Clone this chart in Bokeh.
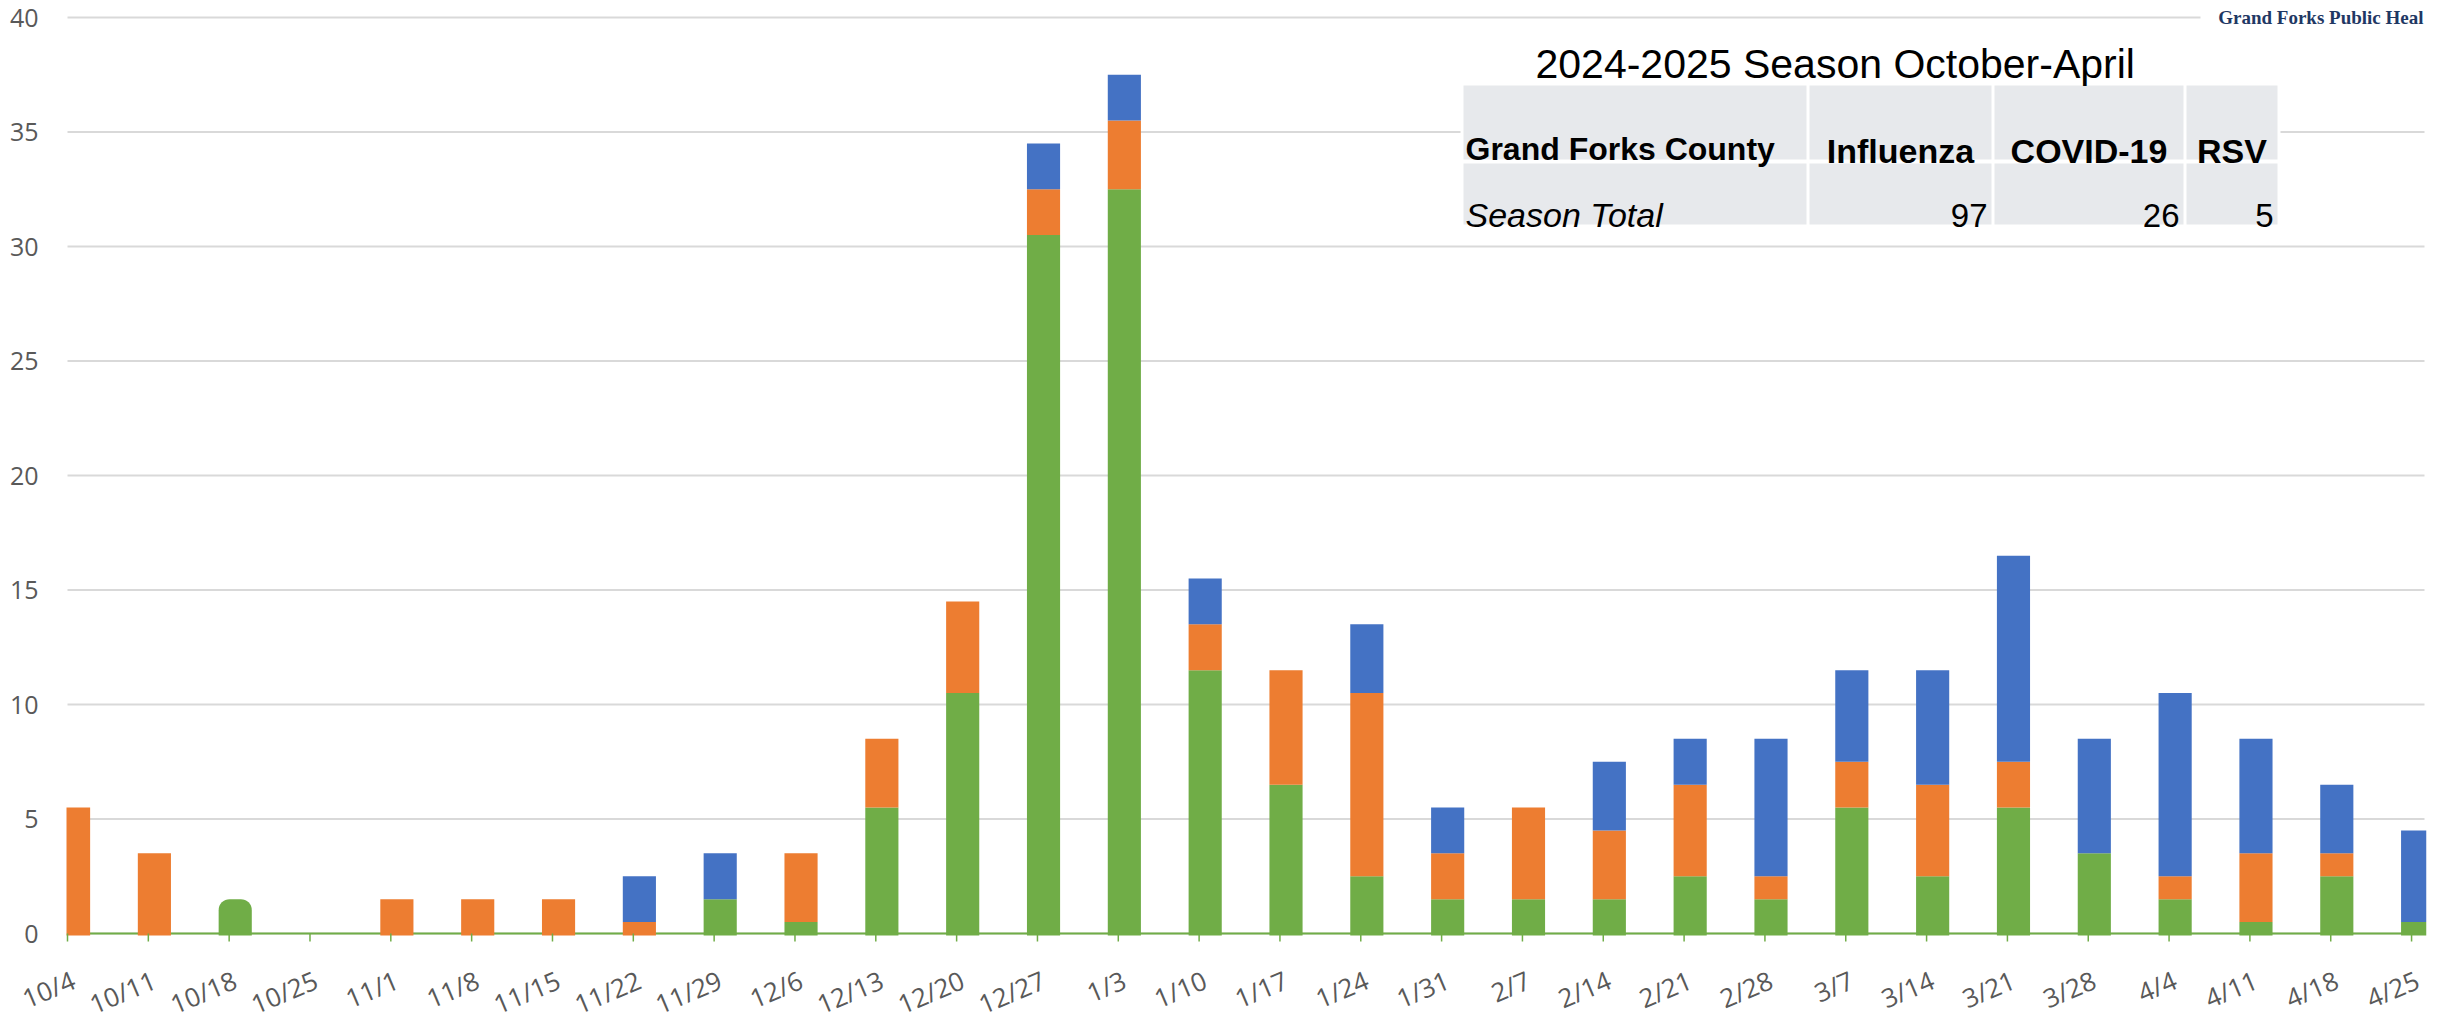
from bokeh.plotting import figure
from bokeh.models import ColumnDataSource, Range1d, CDSView, IndexFilter
from bokeh.embed import file_html
from bokeh.resources import INLINE
from bokeh.core.properties import value

# ---------------- data ----------------
weeks = ["10/4", "10/11", "10/18", "10/25", "11/1", "11/8", "11/15", "11/22", "11/29", "12/6",
         "12/13", "12/20", "12/27", "1/3", "1/10", "1/17", "1/24", "1/31", "2/7", "2/14",
         "2/21", "2/28", "3/7", "3/14", "3/21", "3/28", "4/4", "4/11", "4/18", "4/25"]
green = [0, 0, 1.5, 0, 0, 0, 0, 0, 1.5, 0.5, 5.5, 10.5, 30.5, 32.5, 11.5, 6.5, 2.5, 1.5, 1.5, 1.5,
         2.5, 1.5, 5.5, 2.5, 5.5, 3.5, 1.5, 0.5, 2.5, 0.5]
orange = [5.5, 3.5, 0, 0, 1.5, 1.5, 1.5, 0.5, 0, 3, 3, 4, 2, 3, 2, 5, 8, 2, 4, 3,
          4, 1, 2, 4, 2, 0, 1, 3, 1, 0]
blue = [0, 0, 0, 0, 0, 0, 0, 2, 2, 0, 0, 0, 2, 2, 2, 0, 3, 2, 0, 3,
        2, 6, 4, 5, 9, 5, 8, 5, 3, 4]
y_ticks = [0, 5, 10, 15, 20, 25, 30, 35, 40]

table_title = "2024-2025 Season October-April"
table_row_label = "Grand Forks County"
table_total_label = "Season Total"
table_cols = ["Influenza", "COVID-19", "RSV"]
table_totals = [97, 26, 5]
logo_text = "Grand Forks Public Heal"
rounded_weeks = ["10/18"]

# ---------------- styles / layout (page pixels) ----------------
GREEN, ORANGE, BLUE = "#70ad47", "#ed7d31", "#4472c4"
GRID = "#d9d9d9"
LABEL = "#595959"
W, H = 2430, 1023
BR = 4
PLOT_LEFT_PX = 67      # page x of first category
PLOT_RIGHT_PX = 2424   # page x where the plot area ends
ZERO_PX = 933          # page y of value 0
YPX = 916 / 40         # pixels per unit on y
XPX = (2424 - 67) / 29.16
BAR_W = 0.41
BAR_SHIFT = 0.075


def dx(px):
    return (px - PLOT_LEFT_PX) / XPX


def dy(py):
    return (ZERO_PX - py) / YPX


n = len(weeks)
xs = [i + BAR_SHIFT for i in range(n)]
base = dy(935)
o_top = [g + o for g, o in zip(green, orange)]
b_top = [t + b for t, b in zip(o_top, blue)]
src = ColumnDataSource(dict(
    x=xs,
    g0=[base] * n, g1=green,
    o0=[base if g == 0 else g for g in green], o1=o_top,
    b0=[base if t == 0 else t for t in o_top], b1=b_top,
))

p = figure(width=W, height=H, output_backend="svg", toolbar_location=None,
           x_range=Range1d(dx(0), dx(W - BR)), y_range=Range1d(dy(H), dy(0)),
           x_axis_location=None, y_axis_location=None,
           min_border_left=0, min_border_right=BR, min_border_top=0, min_border_bottom=0)
p.outline_line_color = None
p.background_fill_color = "white"
p.border_fill_color = "white"
p.grid.visible = False

x_end = dx(PLOT_RIGHT_PX)
# horizontal gridlines
p.segment(x0=[0] * len(y_ticks), y0=y_ticks, x1=[x_end] * len(y_ticks), y1=y_ticks,
          line_color=GRID, line_width=2)
# category axis line
p.segment(x0=[0], y0=[0], x1=[x_end], y1=[0], line_color=GREEN, line_width=2)

# stacked bars
round_idx = [i for i, w in enumerate(weeks) if w in rounded_weeks]
nz_g = [i for i in range(n) if green[i] > 0 and i not in round_idx]
nz_o = [i for i in range(n) if orange[i] > 0]
nz_b = [i for i in range(n) if blue[i] > 0]

p.vbar(x="x", bottom="g0", top="g1", width=BAR_W, source=src, view=CDSView(filter=IndexFilter(nz_g)),
       fill_color=GREEN, line_color=None)
try:
    p.vbar(x="x", bottom="g0", top="g1", width=BAR_W, source=src, view=CDSView(filter=IndexFilter(round_idx)),
           fill_color=GREEN, line_color=None, border_radius=(11, 11, 0, 0))
except Exception:
    p.vbar(x="x", bottom="g0", top="g1", width=BAR_W, source=src, view=CDSView(filter=IndexFilter(round_idx)),
           fill_color=GREEN, line_color=None)
p.vbar(x="x", bottom="o0", top="o1", width=BAR_W, source=src, view=CDSView(filter=IndexFilter(nz_o)),
       fill_color=ORANGE, line_color=None)
p.vbar(x="x", bottom="b0", top="b1", width=BAR_W, source=src, view=CDSView(filter=IndexFilter(nz_b)),
       fill_color=BLUE, line_color=None)

# plot-area clip on the left (first bar is cut at the plot edge)
p.quad(left=[dx(0)], right=[dx(PLOT_LEFT_PX - 1)], top=[dy(0)], bottom=[dy(936)],
       fill_color="white", line_color=None)

# ticks and rotated category labels
ticks = list(range(n))
p.segment(x0=ticks, y0=[0] * n, x1=ticks, y1=[dy(941)] * n, line_color=GREEN, line_width=1.5)
p.text(x=[t + 6 / XPX for t in ticks], y=[dy(978)] * n, text=weeks, angle=0.40,
       text_font=value("Open Sans"), text_font_size=value("26px"), text_color=LABEL,
       text_align="right", text_baseline="alphabetic")

# value labels
p.text(x=[dx(38)] * len(y_ticks), y=y_ticks, text=[str(v) for v in y_ticks],
       text_font=value("Open Sans"), text_font_size=value("25px"), text_color=LABEL,
       text_align="right", text_baseline="middle")

# ---------------- summary table ----------------
col_edges = [(1463, 1806), (1809, 1991), (1994, 2183), (2186, 2277)]
row_edges = [(85, 159), (163, 224)]
p.quad(left=[dx(1460)], right=[dx(2280)], top=[dy(82)], bottom=[dy(227)], fill_color="white", line_color=None)
ql, qr, qt, qb = [], [], [], []
for (r0, r1) in row_edges:
    for (c0, c1) in col_edges:
        ql.append(dx(c0)); qr.append(dx(c1)); qt.append(dy(r0)); qb.append(dy(r1))
p.quad(left=ql, right=qr, top=qt, bottom=qb, fill_color="#e7e9ec", line_color=None)

p.text(x=[dx(1535)], y=[dy(63)], text=[table_title], text_font=value("Liberation Sans"),
       text_font_size=value("41px"), text_color="black", text_align="left", text_baseline="alphabetic")
p.text(x=[dx(1465)], y=[dy(148)], text=[table_row_label], text_font=value("Liberation Sans"),
       text_font_size=value("32px"), text_font_style="bold", text_color="black",
       text_align="left", text_baseline="alphabetic")
hx = [dx((c0 + c1) / 2) for (c0, c1) in col_edges[1:]]
p.text(x=hx, y=[dy(150)] * 3, text=table_cols, text_font=value("Liberation Sans"),
       text_font_size=value("34px"), text_font_style="bold", text_color="black",
       text_align="center", text_baseline="alphabetic")
p.text(x=[dx(1465)], y=[dy(214)], text=[table_total_label], text_font=value("Liberation Sans"),
       text_font_size=value("34px"), text_font_style="italic", text_color="black",
       text_align="left", text_baseline="alphabetic")
vx = [dx(c1 - 4) for (c0, c1) in col_edges[1:]]
p.text(x=vx, y=[dy(215)] * 3, text=[str(v) for v in table_totals], text_font=value("Liberation Sans"),
       text_font_size=value("33px"), text_color="black", text_align="right", text_baseline="alphabetic")

# ---------------- logo ----------------
p.quad(left=[dx(2200)], right=[dx(W)], top=[dy(0)], bottom=[dy(27)], fill_color="white", line_color=None)
p.text(x=[dx(2423)], y=[dy(17)], text=[logo_text], text_font=value("Liberation Serif"),
       text_font_size=value("19px"), text_font_style="bold", text_color="#1f3864",
       text_align="right", text_baseline="alphabetic")

open("out.html", "w").write(file_html(p, INLINE))
